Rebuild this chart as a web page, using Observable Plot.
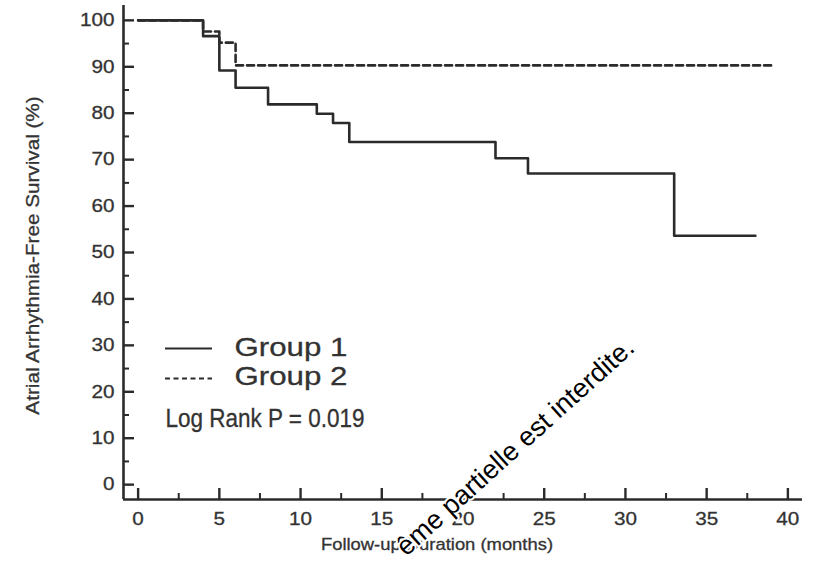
<!DOCTYPE html>
<html><head><meta charset="utf-8">
<script src="https://cdn.jsdelivr.net/npm/d3@7"></script>
<script src="https://cdn.jsdelivr.net/npm/@observablehq/plot@0.6"></script>
<style>
html,body{margin:0;padding:0;background:#fff;}
#chart{width:820px;height:565px;overflow:hidden;}
svg{font-family:"Liberation Sans",Arial,sans-serif;}
</style></head><body><div id="chart"></div>
<script>
// ---- data ----
const group1Months   = [0, 4, 5, 6, 8, 11, 12, 13, 22, 24, 33, 38];
const group1Survival = [100, 96.6, 89.2, 85.5, 81.9, 79.9, 77.9, 73.8, 70.3, 67.0, 53.6, 53.6];
const group2Months   = [0, 4, 5, 6, 39];
const group2Survival = [100, 97.6, 95.2, 90.3, 90.3];
const xTickValues = [0, 5, 10, 15, 20, 25, 30, 35, 40];
const xMinorTicks = [2.5, 7.5, 12.5, 17.5, 22.5, 27.5, 32.5, 37.5];
const yTickValues = [0, 10, 20, 30, 40, 50, 60, 70, 80, 90, 100];
const yMinorTicks = [5, 15, 25, 35, 45, 55, 65, 75, 85, 95];
const groupNames = ["Group 1", "Group 2"];
const pValueLabel = "Log Rank P = 0.019";
const xAxisTitle = "Follow-up Duration (months)";
const yAxisTitle = "Atrial Arrhythmia-Free Survival (%)";
const watermarkText = "ême partielle est interdite.";

// ---- layout ----
const W = 820, H = 565, mL = 123, mR = 18, mT = 5, mB = 66;
const xDom = [-0.9, 40.9], yDom = [-3.2, 103.2];
const pxX = (W - mL - mR) / (xDom[1] - xDom[0]);
const pxY = (H - mT - mB) / (yDom[1] - yDom[0]);
const dataX = px => xDom[0] + (px - mL) / pxX;
const dataY = py => yDom[0] + (H - mB - py) / pxY;
const majorLen = 11, minorLen = 6;
const ink = "#2b2b2b";

const series = [
  ...group1Months.map((m, i) => ({group: groupNames[0], month: m, surv: group1Survival[i]})),
  ...group2Months.map((m, i) => ({group: groupNames[1], month: m, surv: group2Survival[i]}))
];
const legendRows = groupNames.map((g, i) => ({
  group: g,
  x1: dataX(165), x2: dataX(212), xt: dataX(234),
  yl: dataY(i === 0 ? 348 : 378), yt: dataY(i === 0 ? 347 : 376)
}));

const plot = Plot.plot({
  width: W, height: H,
  marginLeft: mL, marginRight: mR, marginTop: mT, marginBottom: mB,
  style: {color: "#333", background: "#fff", fontFamily: "Liberation Sans, Arial, sans-serif"},
  x: {domain: xDom, label: null},
  y: {domain: yDom, label: null},
  marks: [
    // axis lines
    Plot.ruleX([xDom[0]], {stroke: ink, strokeWidth: 2.6}),
    Plot.ruleY([yDom[0]], {stroke: ink, strokeWidth: 2.6}),
    // inward ticks
    Plot.ruleX(xTickValues, {x: d => d, y1: yDom[0], y2: yDom[0] + majorLen / pxY, stroke: ink, strokeWidth: 2.4}),
    Plot.ruleX(xMinorTicks, {x: d => d, y1: yDom[0], y2: yDom[0] + minorLen / pxY, stroke: ink, strokeWidth: 2}),
    Plot.ruleY(yTickValues, {y: d => d, x1: xDom[0], x2: xDom[0] + majorLen / pxX, stroke: ink, strokeWidth: 2.4}),
    Plot.ruleY(yMinorTicks, {y: d => d, x1: xDom[0], x2: xDom[0] + minorLen / pxX, stroke: ink, strokeWidth: 2}),
    // tick labels
    Plot.axisX({ticks: xTickValues, tickSize: 0, tickPadding: 13, fontSize: 18, tickFormat: d => d, label: null}),
    Plot.axisY({ticks: yTickValues, tickSize: 0, tickPadding: 9, fontSize: 18, tickFormat: d => d, label: null}),
    // curves
    Plot.line(series.filter(d => d.group === groupNames[0]), {x: "month", y: "surv", curve: "step-after", stroke: ink, strokeWidth: 2.6}),
    Plot.line(series.filter(d => d.group === groupNames[1]), {x: "month", y: "surv", curve: "step-after", stroke: ink, strokeWidth: 2.6, strokeDasharray: "7,4"}),
    // legend
    Plot.ruleY(legendRows, {y: "yl", x1: "x1", x2: "x2", stroke: ink, strokeWidth: 2}),
    Plot.text(legendRows, {x: "xt", y: "yt", text: "group", textAnchor: "start", fontSize: 25, fill: "#333"}),
    Plot.text([pValueLabel], {x: dataX(165), y: dataY(418.5), text: d => d, textAnchor: "start", fontSize: 25, fill: "#333"}),
    // axis titles
    Plot.text([yAxisTitle], {frameAnchor: "left", textAnchor: "middle", dx: -90, dy: 3, rotate: -90, text: d => d, fontSize: 18, fill: "#333"}),
    Plot.text([xAxisTitle], {frameAnchor: "bottom", textAnchor: "middle", dx: -26, dy: 50, text: d => d, fontSize: 16, fill: "#333"}),
    // watermark overlay
    Plot.text([watermarkText], {x: dataX(400), y: dataY(550), rotate: -42, textAnchor: "start", text: d => d,
      fontSize: 27, fill: "#000", stroke: "#fff", strokeWidth: 4})
  ]
});

// dashed legend line for group 2
plot.querySelectorAll('g[aria-label="rule"]').forEach(g => {
  const lines = g.querySelectorAll("line");
  if (lines.length === 2) lines[1].setAttribute("stroke-dasharray", "5,3.5");
});

// horizontal stretch of glyphs to match the wider lettering of the reference
function factor(s) {
  if (s.startsWith("Group")) return 1.25;
  if (s.startsWith("Log Rank")) return 0.9;
  if (s === watermarkText) return 1;
  return 1.15;
}
plot.querySelectorAll("text").forEach(t => {
  const s = factor(t.textContent);
  if (s === 1) return;
  t.style.stroke = "#333";
  t.style.strokeWidth = "0.3px";
  const tr = t.getAttribute("transform");
  if (tr) {
    t.setAttribute("transform", `${tr} scale(${s},1)`);
  } else {
    const x = parseFloat(t.getAttribute("x")) || 0;
    t.setAttribute("transform", `translate(${x},0) scale(${s},1)`);
    t.setAttribute("x", 0);
  }
});
document.getElementById("chart").appendChild(plot);
</script>
</body></html>
